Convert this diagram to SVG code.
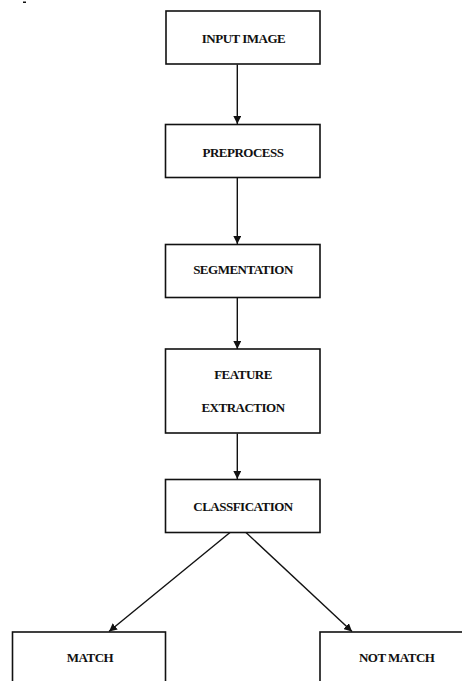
<svg xmlns="http://www.w3.org/2000/svg" width="462" height="681" viewBox="0 0 462 681">
<style>
.box{fill:#fff;stroke:#111;stroke-width:1.6}
.t{font-family:"Liberation Serif","Times New Roman",serif;font-weight:bold;font-size:13px;fill:#111;text-anchor:middle;letter-spacing:-0.5px}
.c{stroke:#111;stroke-width:1.4;fill:none;marker-end:url(#ah)}
</style>
<defs>
<marker id="ah" markerWidth="8" markerHeight="8" refX="8" refY="4" orient="auto" markerUnits="userSpaceOnUse">
<path d="M0,0 L8,4 L0,8 Z" fill="#111"/>
</marker>
</defs>
<rect width="462" height="681" fill="#fff"/>
<rect x="23" y="1.5" width="3" height="1.5" fill="#111"/>
<g id="connectors">
<line class="c" x1="237.3" y1="64.5" x2="237.3" y2="124"/>
<line class="c" x1="237.3" y1="178" x2="237.3" y2="244"/>
<line class="c" x1="237.3" y1="298" x2="237.3" y2="349"/>
<line class="c" x1="237.3" y1="433.5" x2="237.3" y2="479"/>
<line class="c" x1="230" y1="532.5" x2="109" y2="631.5"/>
<line class="c" x1="246" y1="532.5" x2="352" y2="631.5"/>
</g>
<g id="input-image">
<rect class="box" x="166" y="11" width="154" height="53"/>
<text class="t" x="243.5" y="43">INPUT IMAGE</text>
</g>
<g id="preprocess">
<rect class="box" x="165.5" y="124.5" width="154.5" height="53"/>
<text class="t" x="243" y="156.5">PREPROCESS</text>
</g>
<g id="segmentation">
<rect class="box" x="165.5" y="244.5" width="154.5" height="53"/>
<text class="t" x="243" y="274">SEGMENTATION</text>
</g>
<g id="feature-extraction">
<rect class="box" x="165.5" y="349" width="154.5" height="84"/>
<text class="t" x="243" y="379">FEATURE</text>
<text class="t" x="243" y="411.5">EXTRACTION</text>
</g>
<g id="classification">
<rect class="box" x="165.5" y="479.5" width="154.5" height="53"/>
<text class="t" x="243" y="510.5">CLASSFICATION</text>
</g>
<g id="match">
<rect class="box" x="12.5" y="632" width="153" height="60"/>
<text class="t" x="90" y="661.5">MATCH</text>
</g>
<g id="not-match">
<rect class="box" x="320" y="632" width="153" height="60"/>
<text class="t" x="396.7" y="661.5">NOT MATCH</text>
</g>
</svg>
